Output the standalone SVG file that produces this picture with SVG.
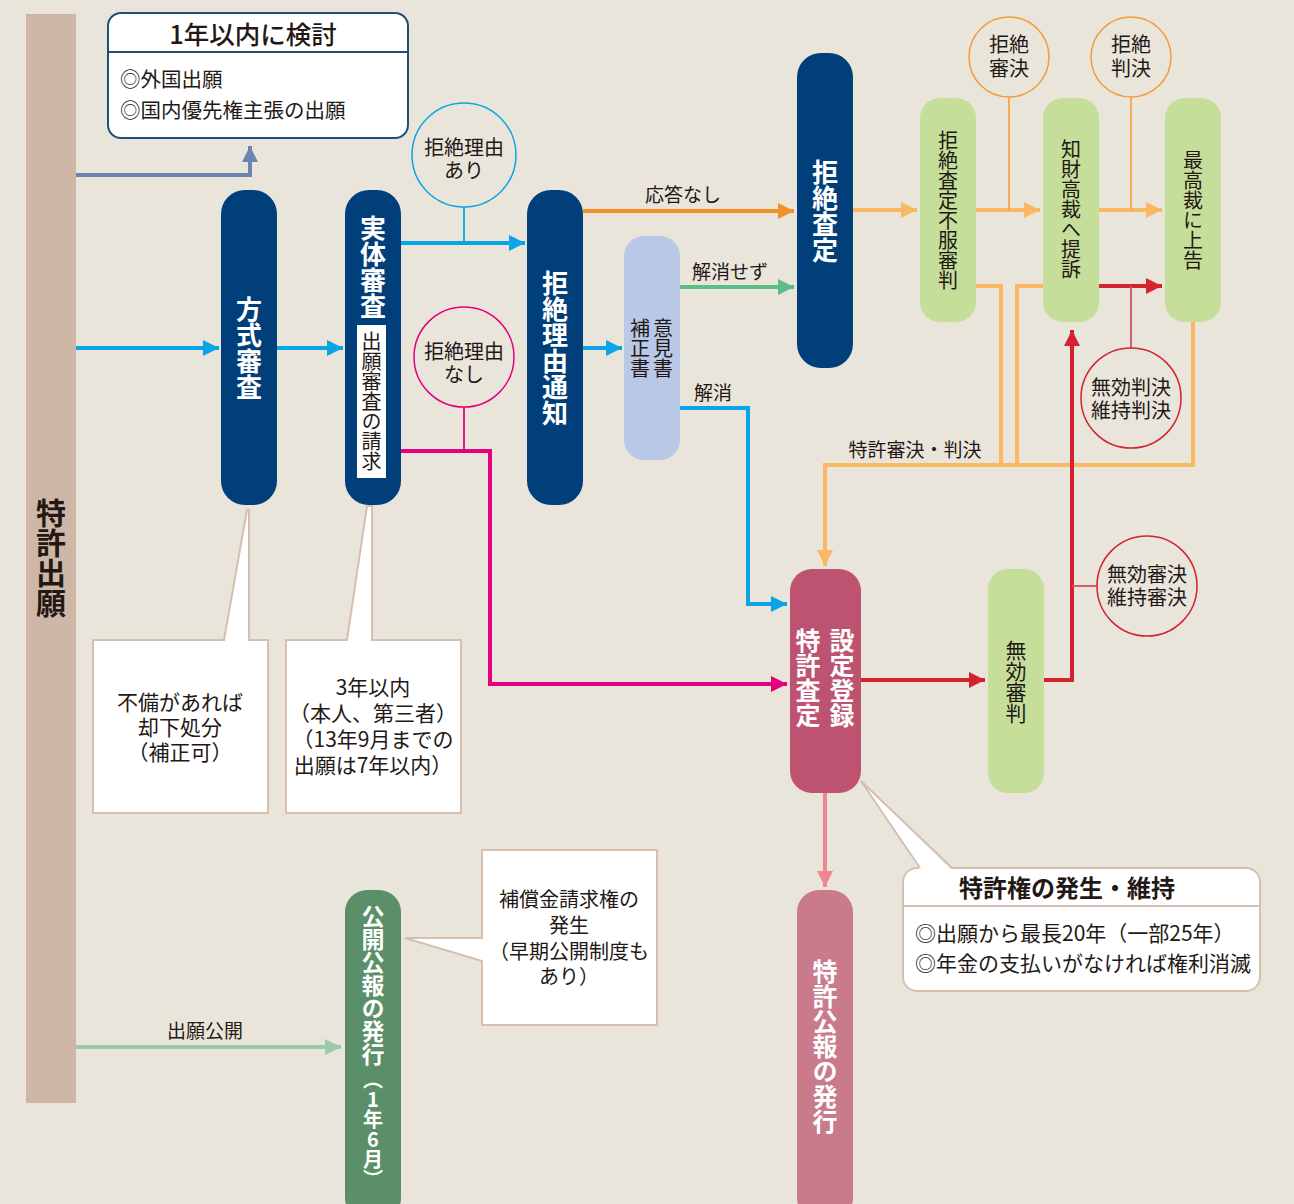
<svg xmlns="http://www.w3.org/2000/svg" width="1294" height="1204" viewBox="0 0 1294 1204">
<style>
text{font-family:"Noto Sans CJK JP","Noto Sans",sans-serif;fill:#231815}
.v{writing-mode:vertical-rl;text-anchor:middle}
.w{fill:#ffffff;font-weight:bold}
.h{text-anchor:middle}
.ln{fill:none;stroke-width:4}
.thin{fill:none;stroke-width:1.8}
.navy{fill:#003f7a}
.lg{fill:#c5df9b}
.call{fill:#ffffff;stroke:#d6bfb0;stroke-width:2}
</style>
<defs>
<marker id="aSlate" markerUnits="userSpaceOnUse" markerWidth="18" markerHeight="18" refX="16" refY="9" orient="auto"><path d="M0,1 L16,9 L0,17 z" fill="#6a85b2"/></marker>
<marker id="aBlue" markerUnits="userSpaceOnUse" markerWidth="18" markerHeight="18" refX="16" refY="9" orient="auto"><path d="M0,1 L16,9 L0,17 z" fill="#0aa5e6"/></marker>
<marker id="aMag" markerUnits="userSpaceOnUse" markerWidth="18" markerHeight="18" refX="16" refY="9" orient="auto"><path d="M0,1 L16,9 L0,17 z" fill="#e5007e"/></marker>
<marker id="aOr" markerUnits="userSpaceOnUse" markerWidth="18" markerHeight="18" refX="16" refY="9" orient="auto"><path d="M0,1 L16,9 L0,17 z" fill="#f29126"/></marker>
<marker id="aLo" markerUnits="userSpaceOnUse" markerWidth="18" markerHeight="18" refX="16" refY="9" orient="auto"><path d="M0,1 L16,9 L0,17 z" fill="#fbb862"/></marker>
<marker id="aGr" markerUnits="userSpaceOnUse" markerWidth="18" markerHeight="18" refX="16" refY="9" orient="auto"><path d="M0,1 L16,9 L0,17 z" fill="#5dbd86"/></marker>
<marker id="aRed" markerUnits="userSpaceOnUse" markerWidth="18" markerHeight="18" refX="16" refY="9" orient="auto"><path d="M0,1 L16,9 L0,17 z" fill="#d2232f"/></marker>
<marker id="aPink" markerUnits="userSpaceOnUse" markerWidth="18" markerHeight="18" refX="16" refY="9" orient="auto"><path d="M0,1 L16,9 L0,17 z" fill="#ef8691"/></marker>
<marker id="aLgr" markerUnits="userSpaceOnUse" markerWidth="18" markerHeight="18" refX="16" refY="9" orient="auto"><path d="M0,1 L16,9 L0,17 z" fill="#9ccaa6"/></marker>
</defs>
<rect x="0" y="0" width="1294" height="1204" fill="#e9e5db"/>

<g id="connectors">
<polyline class="ln" stroke="#6a85b2" points="76,175 250,175 250,146" marker-end="url(#aSlate)"/>
<line class="ln" stroke="#0aa5e6" x1="76" y1="348" x2="219" y2="348" marker-end="url(#aBlue)"/>
<line class="ln" stroke="#0aa5e6" x1="277" y1="348" x2="343" y2="348" marker-end="url(#aBlue)"/>
<line class="ln" stroke="#0aa5e6" x1="401" y1="243" x2="525" y2="243" marker-end="url(#aBlue)"/>
<line class="ln" stroke="#0aa5e6" x1="583" y1="348" x2="622" y2="348" marker-end="url(#aBlue)"/>
<line class="ln" stroke="#f29126" x1="583" y1="211" x2="794" y2="211" marker-end="url(#aOr)"/>
<line class="ln" stroke="#5dbd86" x1="680" y1="287" x2="794" y2="287" marker-end="url(#aGr)"/>
<polyline class="ln" stroke="#0aa5e6" points="680,408 748,408 748,604 787,604" marker-end="url(#aBlue)"/>
<polyline class="ln" stroke="#e5007e" points="401,451 490,451 490,684 787,684" marker-end="url(#aMag)"/>
<line class="ln" stroke="#fbb862" x1="853" y1="210" x2="917" y2="210" marker-end="url(#aLo)"/>
<line class="ln" stroke="#fbb862" x1="976" y1="210" x2="1040" y2="210" marker-end="url(#aLo)"/>
<line class="ln" stroke="#fbb862" x1="1099" y1="210" x2="1162" y2="210" marker-end="url(#aLo)"/>
<line class="ln" stroke="#d2232f" x1="1099" y1="286" x2="1162" y2="286" marker-end="url(#aRed)"/>
<polyline class="ln" stroke="#fbb862" points="976,286 1001,286 1001,465"/>
<polyline class="ln" stroke="#fbb862" points="1043,286 1017,286 1017,465"/>
<polyline class="ln" stroke="#fbb862" points="1193,322 1193,465 825,465 825,566" marker-end="url(#aLo)"/>
<line class="ln" stroke="#d2232f" x1="861" y1="680" x2="985" y2="680" marker-end="url(#aRed)"/>
<polyline class="ln" stroke="#d2232f" points="1044,680 1072,680 1072,330" marker-end="url(#aRed)"/>
<line class="ln" stroke="#ef8691" x1="825" y1="793" x2="825" y2="887" marker-end="url(#aPink)"/>
<line class="ln" stroke="#9ccaa6" x1="76" y1="1047" x2="341" y2="1047" marker-end="url(#aLgr)"/>
<line class="thin" stroke="#0aa5e6" x1="464" y1="207" x2="464" y2="243"/>
<line class="thin" stroke="#e5007e" x1="464" y1="407" x2="464" y2="451"/>
<line class="thin" stroke="#f5a54a" x1="1009" y1="98" x2="1009" y2="210"/>
<line class="thin" stroke="#f5a54a" x1="1131" y1="98" x2="1131" y2="210"/>
<line class="thin" stroke="#d05060" x1="1131" y1="348" x2="1131" y2="286"/>
<line class="thin" stroke="#d05060" x1="1097" y1="586" x2="1072" y2="586"/>
<text class="h" x="683" y="202" font-size="19">応答なし</text>
<text class="h" x="730" y="279" font-size="19">解消せず</text>
<text class="h" x="713" y="400" font-size="19">解消</text>
<text class="h" x="915" y="457" font-size="19">特許審決・判決</text>
<text class="h" x="205" y="1038" font-size="19">出願公開</text>
</g>

<g id="n-tokkyo-shutsugan">
<rect x="26" y="14" width="50" height="1089" fill="#cfb7a8"/>
<text class="v" x="51" y="558" font-size="30" font-weight="bold">特許出願</text>
</g>

<g id="n-kento">
<rect x="108" y="13" width="300" height="125" rx="13" fill="#ffffff" stroke="#1f4e79" stroke-width="2"/>
<line x1="108" y1="52" x2="408" y2="52" stroke="#1f4e79" stroke-width="2"/>
<text class="h" x="253" y="44" font-size="25.5" font-weight="500">1年以内に検討</text>
<text x="120" y="87" font-size="20.5">◎外国出願</text>
<text x="120" y="118" font-size="20.5">◎国内優先権主張の出願</text>
</g>

<g id="n-hoshiki">
<rect class="navy" x="221" y="190" width="56" height="315" rx="24"/>
<text class="v w" x="249" y="348" font-size="26">方式審査</text>
</g>

<g id="n-jittai">
<rect class="navy" x="345" y="190" width="56" height="315" rx="24"/>
<text class="v w" x="373" y="267" font-size="26">実体審査</text>
<rect x="357" y="325" width="29" height="153" fill="#ffffff"/>
<text class="v" x="371.5" y="401" font-size="20">出願審査の請求</text>
</g>

<g id="n-riyu-ari">
<circle cx="464" cy="155" r="52" fill="none" stroke="#0aa5e6" stroke-width="1.5"/>
<text class="h" x="464" y="155" font-size="20">拒絶理由<tspan x="464" dy="23">あり</tspan></text>
</g>

<g id="n-riyu-nashi">
<circle cx="464" cy="357" r="50" fill="none" stroke="#e5007e" stroke-width="1.5"/>
<text class="h" x="464" y="359" font-size="20">拒絶理由<tspan x="464" dy="23">なし</tspan></text>
</g>

<g id="n-tsuchi">
<rect class="navy" x="527" y="190" width="56" height="315" rx="24"/>
<text class="v w" x="555" y="348" font-size="26">拒絶理由通知</text>
</g>

<g id="n-hosei">
<rect x="624" y="236" width="56" height="224" rx="20" fill="#b8c8e6"/>
<text class="v" x="640" y="348" font-size="20">補正書</text>
<text class="v" x="663" y="348" font-size="20">意見書</text>
</g>

<g id="n-kyozetsu-satei">
<rect class="navy" x="797" y="53" width="56" height="315" rx="24"/>
<text class="v w" x="825" y="211" font-size="26">拒絶査定</text>
</g>

<g id="n-fufuku">
<rect class="lg" x="920" y="98" width="56" height="224" rx="20"/>
<text class="v" x="948" y="210" font-size="20">拒絶査定不服審判</text>
</g>

<g id="n-shinketsu">
<circle cx="1009" cy="57" r="40" fill="none" stroke="#f39a3a" stroke-width="1.5"/>
<text class="h" x="1009" y="52" font-size="20">拒絶<tspan x="1009" dy="24">審決</tspan></text>
</g>

<g id="n-chizai">
<rect class="lg" x="1043" y="98" width="56" height="224" rx="20"/>
<text class="v" x="1071" y="209" font-size="20">知財高裁へ提訴</text>
</g>

<g id="n-hanketsu">
<circle cx="1131" cy="57" r="40" fill="none" stroke="#f39a3a" stroke-width="1.5"/>
<text class="h" x="1131" y="52" font-size="20">拒絶<tspan x="1131" dy="24">判決</tspan></text>
</g>

<g id="n-saikosai">
<rect class="lg" x="1165" y="98" width="56" height="224" rx="20"/>
<text class="v" x="1193" y="210" font-size="20">最高裁に上告</text>
</g>

<g id="n-mukohanketsu">
<circle cx="1131" cy="398" r="50" fill="none" stroke="#d2232f" stroke-width="1.5"/>
<text class="h" x="1131" y="395" font-size="20">無効判決<tspan x="1131" dy="23">維持判決</tspan></text>
</g>

<g id="n-tokkyo-satei">
<rect x="790" y="569" width="71" height="224" rx="22" fill="#bd5371"/>
<text class="v w" x="808" y="678" font-size="25">特許査定</text>
<text class="v w" x="842" y="678" font-size="25">設定登録</text>
</g>

<g id="n-mukoshimpan">
<rect class="lg" x="988" y="569" width="56" height="224" rx="20"/>
<text class="v" x="1016" y="682" font-size="21">無効審判</text>
</g>

<g id="n-mukoshinketsu">
<circle cx="1147" cy="586" r="50" fill="none" stroke="#d2232f" stroke-width="1.5"/>
<text class="h" x="1147" y="582" font-size="20">無効審決<tspan x="1147" dy="23">維持審決</tspan></text>
</g>

<g id="n-tokkyokoho">
<rect x="797" y="890" width="56" height="330" rx="22" fill="#c97b8c"/>
<text class="v w" x="825" y="1046" font-size="25">特許公報の発行</text>
</g>

<g id="n-kokaikoho">
<rect x="345" y="890" width="56" height="330" rx="22" fill="#5a8f69"/>
<text class="v w" x="373" y="985" font-size="23">公開公報の発行</text>
<text class="v w" x="373" y="1129" font-size="20" style="text-orientation:upright">（1年6月）</text>
</g>

<g id="n-callout-fubi">
<path class="call" d="M93,640 H224 L247,510 L249,510 V640 H268 V813 H93 Z"/>
<text class="h" x="180" y="710" font-size="21">不備があれば<tspan x="180" dy="25">却下処分</tspan><tspan x="180" dy="25">（補正可）</tspan></text>
</g>

<g id="n-callout-3nen">
<path class="call" d="M286,640 H347 L367,506 H372 V640 H461 V813 H286 Z"/>
<text class="h" x="373" y="695" font-size="21">3年以内<tspan x="373" dy="26">（本人、第三者）</tspan><tspan x="373" dy="26">（13年9月までの</tspan><tspan x="373" dy="26">出願は7年以内）</tspan></text>
</g>

<g id="n-callout-hosho">
<path class="call" d="M482,850 H657 V1025 H482 V961 L405,938 H482 Z"/>
<text class="h" x="569" y="907" font-size="20">補償金請求権の<tspan x="569" dy="26">発生</tspan><tspan x="569" dy="26">（早期公開制度も</tspan><tspan x="569" dy="25">あり）</tspan></text>
</g>

<g id="n-callout-kenri">
<rect x="903" y="868" width="357" height="123" rx="14" fill="#ffffff" stroke="#d6bfb0" stroke-width="2"/>
<line x1="903" y1="906" x2="1260" y2="906" stroke="#d6bfb0" stroke-width="2"/>
<polygon points="861,781 920,870 952,870" fill="#ffffff"/>
<polyline points="920,868 861,781 952,868" fill="none" stroke="#d6bfb0" stroke-width="2"/>
<text class="h" x="1067" y="897" font-size="24" font-weight="bold">特許権の発生・維持</text>
<text x="915" y="941" font-size="21">◎出願から最長20年（一部25年）<tspan x="915" dy="30">◎年金の支払いがなければ権利消滅</tspan></text>
</g>
</svg>
